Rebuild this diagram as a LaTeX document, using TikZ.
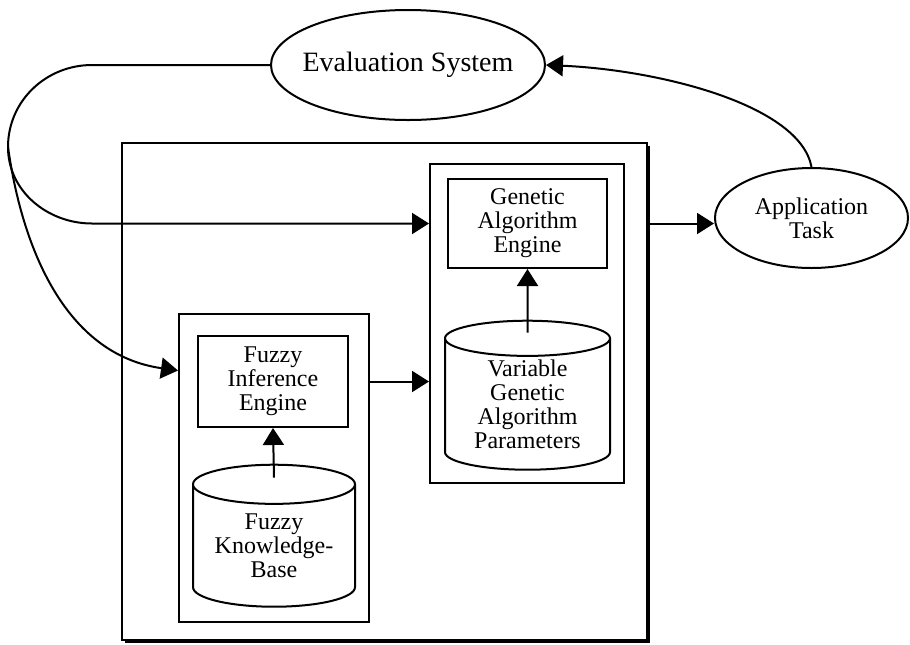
\documentclass[tikz,border=0pt]{standalone}
\usepackage{fontspec}
\setmainfont{Liberation Serif}
\usetikzlibrary{arrows.meta,shapes.geometric,shadows,calc}

\begin{document}
\begin{tikzpicture}[x=0.5pt,y=-0.5pt,line width=1pt,
    txt/.style={align=center,font=\fontsize{12}{12}\selectfont},
    box/.style={draw,txt,inner sep=0pt},
    oval/.style={draw,ellipse,txt,inner sep=0pt},
    drum/.style={draw,cylinder,shape border rotate=90,aspect=0.33,txt,inner sep=0pt},
    arr/.style={-{Triangle[length=8.5pt,width=10.5pt]}}]
    % page is 910 by 644, y runs down
    \useasboundingbox (0,0) rectangle (910,644);
    \node[box,fill=white,minimum width=262.5pt,minimum height=248.5pt,
          drop shadow={fill=black,opacity=1,shadow xshift=1.5pt,shadow yshift=-1.5pt}] (outer) at (384.5,391.5) {};
    % genetic algorithm side
    \node[box,minimum width=97pt,minimum height=159.5pt] (gabox) at (527,323.5) {};
    \node[box,minimum width=79.5pt,minimum height=44.5pt] (gaeng) at (527.5,223.5) {Genetic\\Algorithm\\Engine};
    \node[drum,minimum width=82.5pt,minimum height=74.5pt] (gapar) at (527.5,404.5) {Variable\\Genetic\\Algorithm\\Parameters};
    % fuzzy side
    \node[box,minimum width=95pt,minimum height=154pt] (fzbox) at (274,468) {};
    \node[box,minimum width=75pt,minimum height=45.5pt] (fzeng) at (273,381.5) {Fuzzy\\Inference\\Engine};
    \node[drum,minimum width=81pt,minimum height=71pt] (fzkb) at (274,546) {Fuzzy\\Knowledge-\\Base};
    % outside
    \node[oval,inner xsep=-4.6pt,minimum width=137pt,minimum height=55pt,font=\fontsize{14}{16}\selectfont] (eval) at (408,65) {Evaluation System};
    \node[oval,minimum width=96.5pt,minimum height=50pt] (app) at (811.5,218) {Application\\Task};

    \draw[arr] (eval.west) -- (92,65) to[out=180,in=90] (8,147) coordinate (split)
        to[out=-90,in=180] (92,223.5) -- (gaeng -| gabox.west);
    \draw[arr] (split) to[out=-82,in=172] ($(fzeng.center -| fzbox.west)+(0,-11)$);
    \draw[arr] (fzeng -| fzbox.east) -- (fzeng -| gabox.west);
    \draw[arr] ([yshift=-7pt]fzkb.north) -- (fzeng.south);
    \draw[arr] ([yshift=-6.5pt]gapar.north) -- (gaeng.south);
    \draw[arr] (gaeng -| outer.east) -- (gaeng -| app.west);
    \draw[arr] (app.north) .. controls (800,105) and (660,70) .. (eval.east);
\end{tikzpicture}
\end{document}
